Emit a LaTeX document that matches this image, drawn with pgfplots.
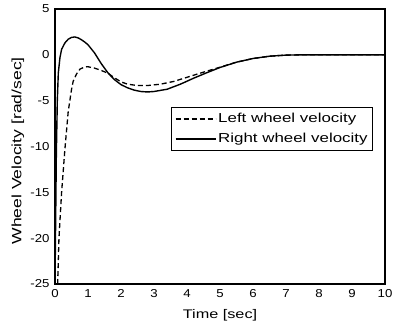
\documentclass[border=0pt]{standalone}
\usepackage{fontspec}
\setmainfont{Liberation Sans}
\newfontfamily\tickfont[FakeStretch=1.15]{Liberation Sans}
\newfontfamily\labfont[FakeStretch=1.3]{Liberation Sans}
\usepackage{pgfplots}
\pgfplotsset{compat=1.18}
\begin{document}
\begin{tikzpicture}
\path[use as bounding box] (-55pt,-46pt) rectangle (340pt,284pt);
\begin{axis}[
  scale only axis, width=330pt, height=275pt,
  at={(0,0)}, anchor=south west,
  xmin=0, xmax=10, ymin=-25, ymax=5,
  xtick={0,1,...,10}, ytick={-25,-20,...,5},
  major tick length=0pt,
  axis line style={line width=1.2pt},
  /pgf/number format/assume math mode=true,
  tick label style={font=\tickfont\fontsize{11.5}{13}\selectfont},
  yticklabel style={xshift=-2pt},
  xticklabel style={yshift=-2pt},
  xlabel={Time [sec]},
  ylabel={Wheel Velocity [rad/sec]},
  xlabel style={font=\labfont\fontsize{12.5}{14}\selectfont, at={(axis description cs:0.5,0)}, anchor=center, yshift=-31pt},
  ylabel style={font=\labfont\fontsize{13.5}{15}\selectfont, at={(axis description cs:0,0.484)}, anchor=center, yshift=37pt},
  legend style={at={(0.964,0.644)}, anchor=north east, draw=black, line width=1.1pt,
    font=\labfont\fontsize{13}{16}\selectfont, inner xsep=3pt, inner ysep=4pt, row sep=5pt},
  legend cell align=left,
  legend image code/.code={\draw[#1] (0pt,0pt) -- (40pt,0pt);},
]
\addplot[black, line width=1.3pt, dash pattern=on 5pt off 3pt] coordinates {
(0.08,-25) (0.12,-20) (0.2,-15) (0.3,-10.3) (0.4,-6.2) (0.5,-3.8) (0.55,-2.9)
(0.65,-2.1) (0.76,-1.55) (0.9,-1.32) (1.0,-1.3) (1.2,-1.45) (1.4,-1.7)
(1.6,-2.0) (1.8,-2.5) (2.0,-2.95) (2.2,-3.2) (2.5,-3.35) (2.8,-3.35)
(3.2,-3.2) (3.6,-2.9) (4.0,-2.45) (4.4,-2.0) (5.0,-1.35) (5.5,-0.8)
(6.0,-0.4) (6.5,-0.15) (7.0,-0.03) (7.5,0) (10,0)
};
\addlegendentry{Left wheel velocity}
\addplot[black, line width=1.4pt] coordinates {
(0,-25) (0.02,-18) (0.04,-11) (0.07,-5) (0.1,-2) (0.15,-0.3) (0.2,0.6)
(0.3,1.3) (0.4,1.7) (0.5,1.9) (0.6,1.95) (0.7,1.85) (0.8,1.65) (0.9,1.4)
(1.0,1.1) (1.2,0.2) (1.4,-0.95) (1.6,-1.95) (1.8,-2.7) (2.0,-3.25)
(2.2,-3.6) (2.4,-3.85) (2.6,-4.0) (2.8,-4.05) (3.0,-4.0) (3.4,-3.75)
(3.8,-3.2) (4.2,-2.55) (4.6,-1.95) (5.0,-1.38) (5.5,-0.8) (6.0,-0.4)
(6.5,-0.15) (7.0,-0.03) (7.5,0) (10,0)
};
\addlegendentry{Right wheel velocity}
\end{axis}
\end{tikzpicture}
\end{document}
